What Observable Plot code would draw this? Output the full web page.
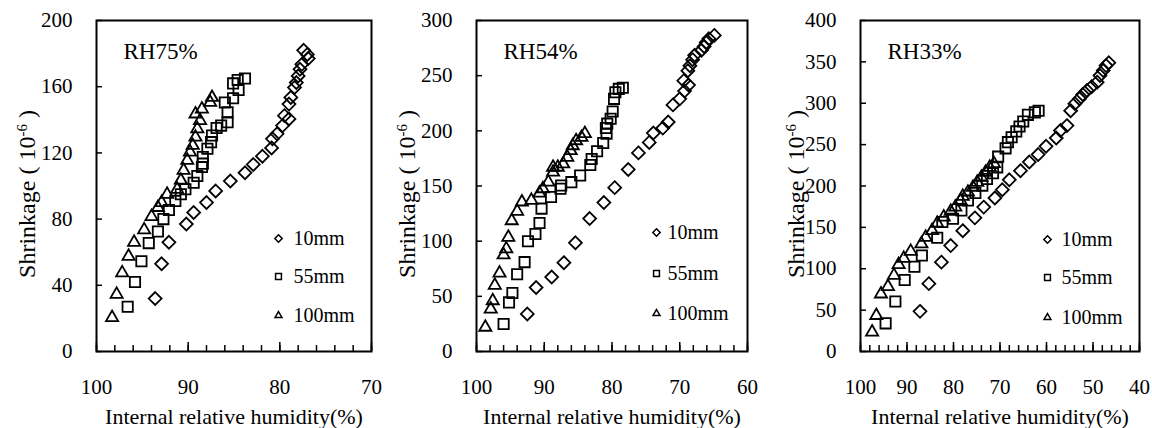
<!DOCTYPE html>
<html><head><meta charset="utf-8">
<script src="https://cdn.jsdelivr.net/npm/d3@7"></script>
<script src="https://cdn.jsdelivr.net/npm/@observablehq/plot@0.6"></script>
<style>
body{margin:0;background:#fff;}
#wrap{position:relative;width:1152px;height:428px;overflow:hidden;}
#wrap > div{position:absolute;top:0;}
#wrap svg, #wrap svg text{font-family:"Liberation Serif", serif !important;}
</style></head><body><div id="wrap"></div>
<script>
const sizes = ["10mm", "55mm", "100mm"];
const symbols = ["diamond2", "square", "triangle2"];
const titles = ["RH75%", "RH54%", "RH33%"];
const xLabel = "Internal relative humidity(%)";

// RH75%
const rh75_10_x = [93.6, 92.9, 92.1, 90.2, 89.4, 88.0, 87.0, 85.4, 83.8, 82.9, 81.9, 80.9, 80.8, 80.3, 79.7, 79.5, 79.0, 79.0, 78.8, 78.4, 78.2, 78.0, 77.8, 77.6, 77.4, 77.0, 76.9];
const rh75_10_y = [32, 53, 66, 77, 84, 90, 97, 103, 108, 113, 118, 123, 128.5, 131.5, 136.5, 142.5, 140.5, 149.5, 153.5, 159.5, 162.5, 166.5, 170.5, 173.5, 182, 179.5, 177];
const rh75_55_x = [96.6, 95.8, 95.1, 94.3, 93.3, 92.7, 92.1, 91.4, 90.8, 90.3, 89.4, 89.0, 88.5, 88.4, 88.4, 87.9, 87.5, 87.4, 86.9, 86.4, 85.7, 85.7, 86.0, 85.1, 84.5, 85.1, 84.6, 83.8];
const rh75_55_y = [27, 42, 54.5, 65.5, 72.5, 80, 85.5, 91, 95, 98, 102, 106, 111.5, 113.5, 117.5, 122.5, 126.5, 130.5, 135, 136.5, 138.5, 144.5, 150.5, 153, 158, 162, 164, 165];
const rh75_100_x = [98.3, 97.8, 97.2, 96.5, 95.9, 94.8, 94.0, 93.3, 92.9, 92.3, 91.2, 90.8, 90.5, 90.1, 89.8, 89.5, 89.2, 89.0, 88.7, 89.2, 88.5, 87.6, 87.4];
const rh75_100_y = [20.5, 34.5, 47.5, 57.5, 66, 73.5, 81.5, 87, 90, 95, 98, 103.5, 109.5, 115.5, 120.5, 124.5, 129.5, 134.5, 139.5, 143.5, 146.5, 150.5, 153.5];

// RH54%
const rh54_10_x = [92.5, 91.2, 88.9, 87.1, 85.4, 83.3, 81.2, 79.6, 77.6, 76.1, 74.5, 73.9, 72.5, 71.7, 71.0, 70.0, 69.3, 68.7, 69.4, 68.8, 68.5, 68.1, 67.8, 66.8, 66.4, 66.1, 65.7, 64.9];
const rh54_10_y = [34, 58, 67.5, 80.5, 98.5, 120.5, 135, 148.5, 165, 180, 189.5, 198, 202.5, 208, 223.5, 229, 236, 241.5, 245.5, 254.5, 259, 264.5, 268.5, 273, 276.5, 280, 283.5, 286.5];
const rh54_55_x = [96.0, 95.2, 94.7, 94.0, 92.9, 92.4, 91.3, 90.7, 90.4, 89.0, 87.6, 87.5, 86.0, 84.7, 83.2, 83.0, 82.2, 81.3, 80.8, 80.9, 80.7, 80.2, 79.9, 79.7, 79.5, 79.0, 78.4];
const rh54_55_y = [25, 44.5, 53, 70, 81, 100, 106.5, 116.5, 129.5, 140, 147.5, 150.5, 153.5, 159.5, 169, 174.5, 181.5, 189, 197.5, 202.5, 206.5, 211, 217.5, 229, 235, 238, 239];
const rh54_100_x = [98.7, 97.9, 97.6, 97.3, 96.6, 96.0, 95.6, 95.3, 94.8, 94.0, 93.3, 91.9, 90.7, 90.2, 89.4, 88.7, 88.7, 88.0, 87.2, 86.6, 86.1, 85.8, 85.3, 84.5, 84.0];
const rh54_100_y = [22, 38.5, 46, 60, 71, 87.5, 93, 103.5, 118.5, 127, 135.5, 137, 143.5, 147.5, 153.5, 162.5, 167, 167, 170, 176, 182, 186.5, 191, 194, 197.5];

// RH33%
const rh33_10_x = [87.2, 85.3, 82.6, 80.6, 78.0, 75.4, 73.5, 71.1, 69.5, 68.0, 65.6, 63.7, 61.8, 60.1, 57.9, 57.0, 55.6, 54.8, 53.9, 52.9, 52.2, 51.3, 50.3, 49.1, 48.5, 47.8, 47.2, 46.6];
const rh33_10_y = [48.5, 82, 108, 128, 146, 161.5, 174.5, 185.5, 195.5, 207.5, 218.5, 229, 238, 248, 258, 267, 273, 291, 299.5, 305.5, 310.5, 315.5, 320, 325.5, 333.5, 339.5, 345.5, 349];
const rh33_55_x = [94.6, 92.5, 90.5, 88.4, 86.8, 83.5, 82.4, 80.1, 78.3, 76.9, 75.3, 73.8, 72.8, 71.5, 70.6, 70.4, 68.8, 68.3, 67.5, 66.5, 65.8, 65.0, 64.0, 62.5, 61.7];
const rh33_55_y = [34, 60.5, 86.5, 102.5, 116, 137.5, 156.5, 160.5, 170.5, 182.5, 191.5, 200.5, 208.5, 215.5, 222.5, 235.5, 245.5, 253, 259, 266, 272, 278, 286, 289, 291];
const rh33_100_x = [97.5, 96.6, 95.6, 94.1, 92.8, 91.8, 90.7, 89.2, 86.9, 86.0, 84.6, 83.5, 82.1, 80.6, 79.6, 78.5, 78.0, 76.9, 75.8, 74.9, 74.0, 73.1, 72.2, 71.3];
const rh33_100_y = [23.5, 43.5, 69.5, 78.5, 92, 105, 112.5, 121, 130, 138, 146, 155, 162.5, 169.5, 174.5, 182.5, 187.5, 192.5, 198.5, 204.5, 210.5, 216.5, 222.5, 227];

// ticks
const xTicks75 = [100, 90, 80, 70];
const xTicks54 = [100, 90, 80, 70, 60];
const xTicks33 = [100, 90, 80, 70, 60, 50, 40];
const yTicks75 = [0, 40, 80, 120, 160, 200];
const yTicks54 = [0, 50, 100, 150, 200, 250, 300];
const yTicks33 = [0, 50, 100, 150, 200, 250, 300, 350, 400];

const panels = [
  {title: titles[0], series: [[rh75_10_x, rh75_10_y], [rh75_55_x, rh75_55_y], [rh75_100_x, rh75_100_y]],
   xDomain: [100, 70], yDomain: [0, 200], xTicks: xTicks75, yTicks: yTicks75,
   left: 0, ml: 96, mr: 13, labX: 35, legSym: -93, legText: -78, legDy: [218, 256, 295]},
  {title: titles[1], series: [[rh54_10_x, rh54_10_y], [rh54_55_x, rh54_55_y], [rh54_100_x, rh54_100_y]],
   xDomain: [100, 60], yDomain: [0, 300], xTicks: xTicks54, yTicks: yTicks54,
   left: 384, ml: 92, mr: 21, labX: 31, legSym: -91, legText: -80, legDy: [212, 253, 293]},
  {title: titles[2], series: [[rh33_10_x, rh33_10_y], [rh33_55_x, rh33_55_y], [rh33_100_x, rh33_100_y]],
   xDomain: [100, 40], yDomain: [0, 400], xTicks: xTicks33, yTicks: yTicks33,
   left: 768, ml: 92, mr: 13, labX: 36, legSym: -92, legText: -78, legDy: [219, 257, 297]}
];

const FONT = "'Liberation Serif', serif";
const W = 384, H = 428, MT = 20, MB = 77;
const wrap = document.getElementById("wrap");

for (const p of panels) {
  const minor = d3.range(p.xDomain[1], p.xDomain[0] + 0.001, 2);
  const plotH = H - MT - MB;
  const plotW = W - p.ml - p.mr;
  const marks = [
    // inward tick marks along the bottom and left edges
    Plot.ruleX(minor, {x: d => d, insetTop: plotH - 6, stroke: "black", strokeWidth: 1.5}),
    Plot.ruleX(p.xTicks, {x: d => d, insetTop: plotH - 9, stroke: "black", strokeWidth: 1.5}),
    Plot.ruleY(p.yTicks, {y: d => d, insetRight: plotW - 6, stroke: "black", strokeWidth: 1.5}),
    Plot.frame({stroke: "black", strokeWidth: 2}),
    // tick labels
    Plot.axisY({ticks: p.yTicks, tickSize: 0, tickPadding: 24, fontSize: 21, fontFamily: FONT, label: null}),
    Plot.axisX({ticks: p.xTicks, tickSize: 0, tickPadding: 28, fontSize: 21, fontFamily: FONT, label: null}),
    Plot.text([p.title], {frameAnchor: "top-left", dx: 27, dy: 38, lineAnchor: "bottom", textAnchor: "start", fontSize: 23, fontFamily: FONT}),
    Plot.text([xLabel], {frameAnchor: "bottom", dy: 72, lineAnchor: "bottom", fontSize: 22, fontFamily: FONT})
  ];
  p.series.forEach(([xs, ys], i) => {
    const rows = xs.map((x, j) => ({x, y: ys[j]}));
    marks.push(Plot.dot(rows, {x: "x", y: "y", symbol: symbols[i], r: 5.8, fill: "none", stroke: "black", strokeWidth: 1.8}));
    marks.push(Plot.dot([sizes[i]], {frameAnchor: "top-right", dx: p.legSym, dy: p.legDy[i], symbol: symbols[i], r: 3.3, fill: "none", stroke: "black", strokeWidth: 1.5}));
    marks.push(Plot.text([sizes[i]], {frameAnchor: "top-right", dx: p.legText, dy: p.legDy[i], textAnchor: "start", lineAnchor: "middle", fontSize: 20, fontFamily: FONT}));
  });
  const svg = Plot.plot({
    width: W, height: H,
    marginLeft: p.ml, marginRight: p.mr, marginTop: MT, marginBottom: MB,
    x: {domain: p.xDomain, axis: null},
    y: {domain: p.yDomain, axis: null},
    style: {fontFamily: FONT, fontSize: "21px", color: "black", background: "white", overflow: "visible"},
    marks
  });
  const t = d3.select(svg).append("text")
    .attr("transform", `translate(${p.labX},194) rotate(-90)`)
    .attr("text-anchor", "middle")
    .attr("font-size", 24)
    .attr("fill", "black");
  t.append("tspan").text("Shrinkage ( 10");
  t.append("tspan").attr("dy", "-0.55em").attr("font-size", 15).text("-6");
  t.append("tspan").attr("dy", "0.35em").text(" )");
  const div = document.createElement("div");
  div.style.left = p.left + "px";
  div.appendChild(svg);
  wrap.appendChild(div);
}
</script></body></html>
